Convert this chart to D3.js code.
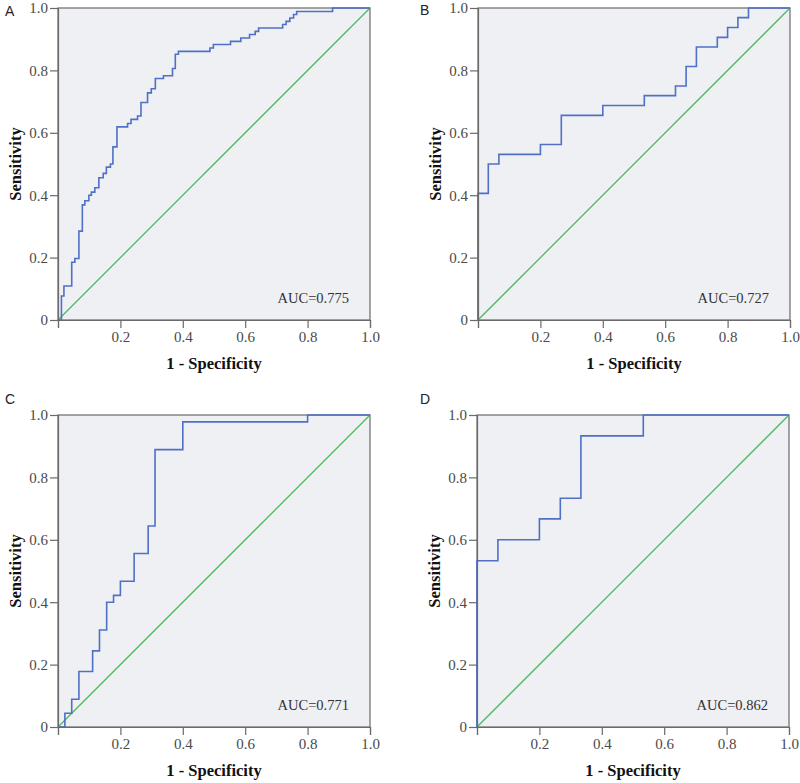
<!DOCTYPE html>
<html>
<head>
<meta charset="utf-8">
<script src="https://cdn.jsdelivr.net/npm/d3@7"></script>
<style>
  html, body { margin: 0; padding: 0; background: #ffffff; }
  svg { display: block; }
</style>
</head>
<body>
<svg id="chart" width="800" height="783"></svg>
<script>
// ---- Data ----
const panelLabels = ["A", "B", "C", "D"];
const aucLabels = ["AUC=0.775", "AUC=0.727", "AUC=0.771", "AUC=0.862"];
const xTickValues = [0, 0.2, 0.4, 0.6, 0.8, 1.0];
const xTickLabels = ["", "0.2", "0.4", "0.6", "0.8", "1.0"];
const yTickValues = [0, 0.2, 0.4, 0.6, 0.8, 1.0];
const yTickLabels = ["0", "0.2", "0.4", "0.6", "0.8", "1.0"];
const xTitle = "1 - Specificity";
const yTitle = "Sensitivity";

const fprA = [0, 0.011, 0.019, 0.044, 0.054, 0.067, 0.078, 0.086, 0.099, 0.107, 0.118, 0.131, 0.145, 0.155, 0.168, 0.176, 0.189, 0.223, 0.234, 0.255, 0.266, 0.287, 0.299, 0.312, 0.338, 0.367, 0.376, 0.386, 0.487, 0.498, 0.553, 0.586, 0.614, 0.632, 0.643, 0.720, 0.731, 0.743, 0.755, 0.765, 0.880, 1.0];
const tprA = [0, 0.077, 0.109, 0.185, 0.197, 0.285, 0.369, 0.382, 0.400, 0.410, 0.424, 0.456, 0.470, 0.490, 0.500, 0.555, 0.619, 0.630, 0.643, 0.654, 0.697, 0.728, 0.741, 0.774, 0.783, 0.806, 0.852, 0.861, 0.872, 0.883, 0.893, 0.904, 0.915, 0.925, 0.936, 0.947, 0.957, 0.968, 0.979, 0.989, 1.0, 1.0];

const fprB = [0, 0, 0.033, 0.067, 0.200, 0.267, 0.400, 0.533, 0.633, 0.667, 0.700, 0.767, 0.800, 0.833, 0.867, 1.0];
const tprB = [0, 0.406, 0.500, 0.531, 0.5625, 0.656, 0.6875, 0.719, 0.750, 0.8125, 0.875, 0.906, 0.9375, 0.969, 1.0, 1.0];

const fprC = [0, 0.022, 0.044, 0.067, 0.111, 0.133, 0.156, 0.178, 0.200, 0.244, 0.289, 0.311, 0.400, 0.800, 1.0];
const tprC = [0, 0.044, 0.089, 0.178, 0.244, 0.311, 0.400, 0.422, 0.467, 0.556, 0.644, 0.889, 0.978, 1.0, 1.0];

const fprD = [0, 0, 0.067, 0.200, 0.267, 0.333, 0.533, 1.0];
const tprD = [0, 0.533, 0.600, 0.667, 0.733, 0.933, 1.0, 1.0];

const seriesFpr = [fprA, fprB, fprC, fprD];
const seriesTpr = [tprA, tprB, tprC, tprD];

// ---- Layout ----
const plotFrames = [
  { left: 58,  top: 8,   size: 312 },
  { left: 478, top: 8,   size: 312 },
  { left: 58,  top: 415, size: 312 },
  { left: 477, top: 415, size: 312 }
];
const labelPos = [
  { x: 5,   y: 16 },
  { x: 420, y: 15 },
  { x: 5,   y: 404 },
  { x: 420, y: 404 }
];

const colors = {
  bg: "#eef0f3",
  frame: "#6a6a6a",
  roc: "#5070c8",
  ref: "#4cba5c",
  tickText: "#4a4a4a",
  title: "#111111"
};
const serif = "'Liberation Serif', 'Times New Roman', serif";

const svg = d3.select("#chart");

plotFrames.forEach((f, i) => {
  const g = svg.append("g").attr("transform", `translate(${f.left},${f.top})`);
  const x = d3.scaleLinear().domain([0, 1]).range([0, f.size]);
  const y = d3.scaleLinear().domain([0, 1]).range([f.size, 0]);

  // background
  g.append("rect")
    .attr("x", x(0)).attr("y", y(1))
    .attr("width", x(1) - x(0)).attr("height", y(0) - y(1))
    .attr("fill", colors.bg)
    .attr("stroke", colors.frame)
    .attr("stroke-width", 1.2);

  // reference diagonal
  g.append("line")
    .attr("x1", x(0)).attr("y1", y(0))
    .attr("x2", x(1)).attr("y2", y(1))
    .attr("stroke", colors.ref)
    .attr("stroke-width", 1.3);

  // ROC curve
  const pts = seriesFpr[i].map((v, k) => [v, seriesTpr[i][k]]);
  const line = d3.line()
    .x(d => x(d[0]))
    .y(d => y(d[1]))
    .curve(d3.curveStepAfter);
  g.append("path")
    .datum(pts)
    .attr("d", line)
    .attr("fill", "none")
    .attr("stroke", colors.roc)
    .attr("stroke-width", 1.6);

  // axes
  const xAxis = d3.axisBottom(x)
    .tickValues(xTickValues)
    .tickFormat((d, k) => xTickLabels[k])
    .tickSizeOuter(0)
    .tickSize(8)
    .tickPadding(3);
  const gx = g.append("g").attr("transform", `translate(0,${f.size})`).call(xAxis);
  const yAxis = d3.axisLeft(y)
    .tickValues(yTickValues)
    .tickFormat((d, k) => yTickLabels[k])
    .tickSizeOuter(0)
    .tickSize(8)
    .tickPadding(2);
  const gy = g.append("g").call(yAxis);

  [gx, gy].forEach(ax => {
    ax.select(".domain").attr("stroke", colors.frame).attr("stroke-width", 1.2);
    ax.selectAll(".tick line").attr("stroke", colors.frame).attr("stroke-width", 1.2);
    ax.selectAll(".tick text")
      .attr("fill", colors.tickText)
      .style("font-family", serif)
      .style("font-size", "15px");
  });

  // axis titles
  g.append("text")
    .attr("x", f.size / 2)
    .attr("y", f.size + 49)
    .attr("text-anchor", "middle")
    .attr("fill", colors.title)
    .style("font-family", serif)
    .style("font-weight", "bold")
    .style("font-size", "16.5px")
    .text(xTitle);

  g.append("text")
    .attr("transform", `translate(-37,${f.size / 2}) rotate(-90)`)
    .attr("text-anchor", "middle")
    .attr("fill", colors.title)
    .style("font-family", serif)
    .style("font-weight", "bold")
    .style("font-size", "16.5px")
    .text(yTitle);

  // AUC annotation
  g.append("text")
    .attr("x", f.size - 21)
    .attr("y", f.size - 17)
    .attr("text-anchor", "end")
    .attr("fill", "#333")
    .style("font-family", serif)
    .style("font-size", "14.5px")
    .text(aucLabels[i]);

  // panel letter
  svg.append("text")
    .attr("x", labelPos[i].x)
    .attr("y", labelPos[i].y)
    .attr("fill", "#222")
    .style("font-family", "'Liberation Sans', Arial, sans-serif")
    .style("font-size", "14px")
    .text(panelLabels[i]);
});
</script>
</body>
</html>
